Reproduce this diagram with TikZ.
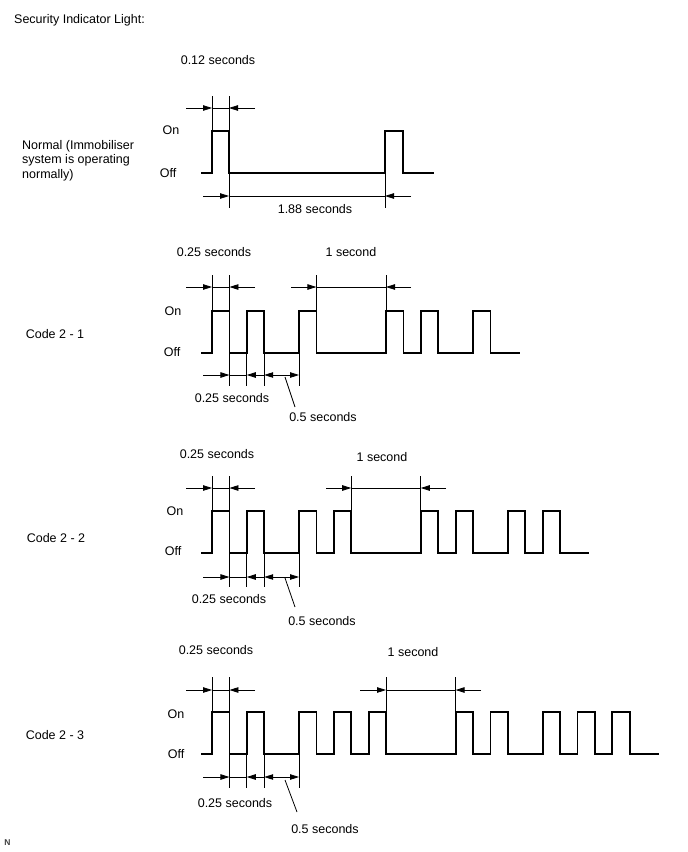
\documentclass[tikz,border=0pt]{standalone}
\usepackage{fontspec}
\setmainfont{Liberation Sans}
\usetikzlibrary{arrows.meta}
\tikzset{
  sig/.style={line width=1.8pt, line join=miter, line cap=butt},
  dimln/.style={line width=0.8pt},
  dimarr/.style={dimln, -{Triangle[length=9pt,width=5.5pt]}},
  dimboth/.style={dimln, {Triangle[length=9pt,width=5.5pt]}-{Triangle[length=9pt,width=5.5pt]}},
  lbl/.style={font=\fontsize{12.5}{14.5}\selectfont, inner sep=0pt},
}
\begin{document}
\begin{tikzpicture}[x=1pt,y=-1pt]
\useasboundingbox (0,0) rectangle (688,852);
\fill[white] (0,0) rectangle (688,852);

% ---------- titles ----------
\node[lbl, anchor=base west] (title) at (14,23) {Security Indicator Light:};
\node[font=\fontsize{8.5}{9}\selectfont\bfseries, text=black!75, inner sep=0pt] (nmark) at (7.5,843) {N};

% ================= Normal =================
\node[lbl] (t012) at (218,60) {0.12 seconds};
\node[lbl] (on0) at (171,130) {On};
\node[lbl] (off0) at (168,173) {Off};
\node[lbl, anchor=base west] (nrm1) at (22,149) {Normal (Immobiliser};
\node[lbl, anchor=base west] (nrm2) at (22,163.5) {system is operating};
\node[lbl, anchor=base west] (nrm3) at (22,178) {normally)};
\draw[sig] (201,173) -| (212,131) -| (229,173) -| (385,131) -| (403,173) -- (434,173);
% extension lines
\draw[dimln] (212,96) -- (212,131);
\draw[dimln] (229,96) -- (229,208);
\draw[dimln] (385,173) -- (385,208);
% top dim
\coordinate (n0a) at (186,108); \coordinate (n0b) at (212,108);
\coordinate (n0c) at (229,108); \coordinate (n0d) at (255,108);
\draw[dimarr] (n0a) -- (n0b);
\draw[dimln] (n0b) -- (n0c);
\draw[dimarr] (n0d) -- (n0c);
% bottom dim
\coordinate (n1a) at (203,196); \coordinate (n1b) at (229,196);
\coordinate (n1c) at (385,196); \coordinate (n1d) at (411,196);
\draw[dimarr] (n1a) -- (n1b);
\draw[dimln] (n1b) -- (n1c);
\draw[dimarr] (n1d) -- (n1c);
\node[lbl] (t188) at (315,209) {1.88 seconds};

% ================= Code 2 - 1 =================
\node[lbl] (c21) at (55,334) {Code 2 - 1};
\node[lbl] (on1) at (173,311) {On};
\node[lbl] (off1) at (172,352) {Off};
\node[lbl] (a1) at (214,252) {0.25 seconds};
\node[lbl] (b1) at (351,252) {1 second};
\node[lbl] (c1) at (232,398) {0.25 seconds};
\node[lbl] (d1) at (323,417) {0.5 seconds};
\draw[sig] (201,353) -| (212,311) -| (229.4,353) -| (246.8,311) -| (264.2,353)
  -| (299,311) -| (316.4,353) -| (386,311) -| (403.4,353) -| (420.8,311)
  -| (438.2,353) -| (473,311) -| (490.4,353) -- (520,353);
% extension lines
\draw[dimln] (212,275) -- (212,311);
\draw[dimln] (229.4,275) -- (229.4,386);
\draw[dimln] (246.8,311) -- (246.8,386);
\draw[dimln] (264.2,311) -- (264.2,386);
\draw[dimln] (299,353) -- (299,386);
\draw[dimln] (316.4,275) -- (316.4,311);
\draw[dimln] (386,275) -- (386,311);
% top dims
\draw[dimarr] (186,287) -- (212,287);
\draw[dimln] (212,287) -- (229.4,287);
\draw[dimarr] (255,287) -- (229.4,287);
\draw[dimarr] (291,287) -- (316.4,287);
\draw[dimln] (316.4,287) -- (386,287);
\draw[dimarr] (411,287) -- (386,287);
% bottom dims
\draw[dimarr] (203,375) -- (229.4,375);
\draw[dimln] (229.4,375) -- (246.8,375);
\draw[dimarr] (264.2,375) -- (246.8,375);
\draw[dimboth] (264.2,375) -- (299,375);
\coordinate (l1a) at (285,377); \coordinate (l1b) at (295,407);
\draw[dimln] (l1a) -- (l1b);

% ================= Code 2 - 2 =================
\node[lbl] (c22) at (56,538) {Code 2 - 2};
\node[lbl] (on2) at (175,511) {On};
\node[lbl] (off2) at (173,551) {Off};
\node[lbl] (a2) at (217,454) {0.25 seconds};
\node[lbl] (b2) at (382,457) {1 second};
\node[lbl] (c2) at (229,599) {0.25 seconds};
\node[lbl] (d2) at (322,621) {0.5 seconds};
\draw[sig] (201,553) -| (212,511) -| (229.4,553) -| (246.8,511) -| (264.2,553)
  -| (299,511) -| (316.4,553) -| (333.8,511) -| (351.2,553)
  -| (420.8,511) -| (438.2,553) -| (455.6,511) -| (473,553)
  -| (507.8,511) -| (525.2,553) -| (542.6,511) -| (560,553) -- (589,553);
\draw[dimln] (212,476) -- (212,511);
\draw[dimln] (229.4,476) -- (229.4,587);
\draw[dimln] (246.8,511) -- (246.8,587);
\draw[dimln] (264.2,511) -- (264.2,587);
\draw[dimln] (299,553) -- (299,587);
\draw[dimln] (351.2,476) -- (351.2,511);
\draw[dimln] (420.8,476) -- (420.8,511);
\draw[dimarr] (186,488) -- (212,488);
\draw[dimln] (212,488) -- (229.4,488);
\draw[dimarr] (255,488) -- (229.4,488);
\draw[dimarr] (326,488) -- (351.2,488);
\draw[dimln] (351.2,488) -- (420.8,488);
\draw[dimarr] (446,488) -- (420.8,488);
\draw[dimarr] (203,577) -- (229.4,577);
\draw[dimln] (229.4,577) -- (246.8,577);
\draw[dimarr] (264.2,577) -- (246.8,577);
\draw[dimboth] (264.2,577) -- (299,577);
\coordinate (l2a) at (285,578); \coordinate (l2b) at (295,607);
\draw[dimln] (l2a) -- (l2b);

% ================= Code 2 - 3 =================
\node[lbl] (c23) at (55,735) {Code 2 - 3};
\node[lbl] (on3) at (176,714) {On};
\node[lbl] (off3) at (176,754) {Off};
\node[lbl] (a3) at (216,650) {0.25 seconds};
\node[lbl] (b3) at (413,652) {1 second};
\node[lbl] (c3) at (235,803) {0.25 seconds};
\node[lbl] (d3) at (325,829) {0.5 seconds};
\draw[sig] (201,754) -| (212,712) -| (229.4,754) -| (246.8,712) -| (264.2,754)
  -| (299,712) -| (316.4,754) -| (333.8,712) -| (351.2,754) -| (368.6,712) -| (386,754)
  -| (455.6,712) -| (473,754) -| (490.4,712) -| (507.8,754)
  -| (542.6,712) -| (560,754) -| (577.4,712) -| (594.8,754) -| (612.2,712) -| (629.6,754)
  -- (659,754);
\draw[dimln] (212,677) -- (212,712);
\draw[dimln] (229.4,677) -- (229.4,788);
\draw[dimln] (246.8,712) -- (246.8,788);
\draw[dimln] (264.2,712) -- (264.2,788);
\draw[dimln] (299,754) -- (299,788);
\draw[dimln] (386,677) -- (386,712);
\draw[dimln] (455.6,677) -- (455.6,712);
\draw[dimarr] (186,690) -- (212,690);
\draw[dimln] (212,690) -- (229.4,690);
\draw[dimarr] (255,690) -- (229.4,690);
\draw[dimarr] (360,690) -- (386,690);
\draw[dimln] (386,690) -- (455.6,690);
\draw[dimarr] (481,690) -- (455.6,690);
\draw[dimarr] (203,777) -- (229.4,777);
\draw[dimln] (229.4,777) -- (246.8,777);
\draw[dimarr] (264.2,777) -- (246.8,777);
\draw[dimboth] (264.2,777) -- (299,777);
\coordinate (l3a) at (285,780); \coordinate (l3b) at (297,812);
\draw[dimln] (l3a) -- (l3b);
\end{tikzpicture}
\end{document}
